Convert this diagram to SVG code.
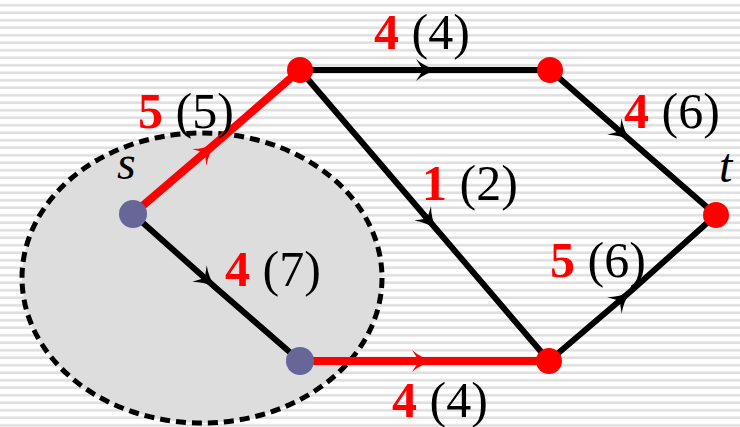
<svg xmlns="http://www.w3.org/2000/svg" width="740" height="427" viewBox="0 0 740 427">
<style>
.lbl{font-family:"Liberation Serif","Times New Roman",serif;font-size:50px;fill:#000}
.r{fill:#ff0000;font-weight:bold}
.it{font-family:"Liberation Serif","Times New Roman",serif;font-size:48px;font-style:italic;fill:#000}
.eb{fill:none;stroke:#000;stroke-width:6;marker-mid:url(#ab)}
.er{fill:none;stroke:#ff0000;stroke-width:8;marker-mid:url(#ar)}
.nr{fill:#ff0000}
.nb{fill:#666699}
</style>
<defs>
<pattern id="stripes" width="740" height="7.5" patternUnits="userSpaceOnUse">
<rect x="0" y="0" width="740" height="7.5" fill="#ffffff"/>
<rect x="0" y="4" width="740" height="2.5" fill="#dedede"/>
</pattern>
<marker id="ab" markerUnits="userSpaceOnUse" viewBox="-26 -13 28 26" refX="0" refY="0" markerWidth="28" markerHeight="26" orient="auto">
<path d="M0,0 Q-13,-3 -22,-11 L-15,0 L-22,11 Q-13,3 0,0 Z" fill="#000"/>
</marker>
<marker id="ar" markerUnits="userSpaceOnUse" viewBox="-26 -13 28 26" refX="0" refY="0" markerWidth="28" markerHeight="26" orient="auto">
<path d="M0,0 Q-13,-3 -22,-11 L-15,0 L-22,11 Q-13,3 0,0 Z" fill="#ff0000"/>
</marker>
</defs>
<rect width="740" height="427" fill="url(#stripes)"/>
<ellipse cx="202" cy="278" rx="180" ry="145" fill="#dddddd" stroke="#000" stroke-width="5" stroke-dasharray="10,6"/>
<g id="connectors">
<path id="e-s-a" class="er" d="M133,214 L216,143 L300,70"/>
<path id="e-s-c" class="eb" d="M133,214 L216,288 L300,361"/>
<path id="e-a-b" class="eb" d="M300,70 L438,70 L550,70"/>
<path id="e-a-d" class="eb" d="M300,70 L437,230 L549,361"/>
<path id="e-b-t" class="eb" d="M550,70 L631,141 L716,215"/>
<path id="e-d-t" class="eb" d="M549,361 L631,291 L716,215"/>
<path id="e-c-d" class="er" d="M300,361 L434,361 L549,361"/>
</g>
<g id="node-s"><circle class="nb" cx="133" cy="214" r="14"/><text class="it" x="117" y="179">s</text></g>
<g id="node-a"><circle class="nr" cx="300" cy="70" r="13"/></g>
<g id="node-b"><circle class="nr" cx="550" cy="70" r="13"/></g>
<g id="node-t"><circle class="nr" cx="716" cy="215" r="13"/><text class="it" x="719" y="182">t</text></g>
<g id="node-c"><circle class="nb" cx="300" cy="361" r="14"/></g>
<g id="node-d"><circle class="nr" cx="549" cy="361" r="13"/></g>
<g id="labels">
<text class="lbl" x="138" y="128"><tspan class="r">5</tspan> (5)</text>
<text class="lbl" x="374" y="49"><tspan class="r">4</tspan> (4)</text>
<text class="lbl" x="624" y="128"><tspan class="r">4</tspan> (6)</text>
<text class="lbl" x="422" y="200"><tspan class="r">1</tspan> (2)</text>
<text class="lbl" x="225" y="286"><tspan class="r">4</tspan> (7)</text>
<text class="lbl" x="550" y="277"><tspan class="r">5</tspan> (6)</text>
<text class="lbl" x="392" y="417"><tspan class="r">4</tspan> (4)</text>
</g>
</svg>
